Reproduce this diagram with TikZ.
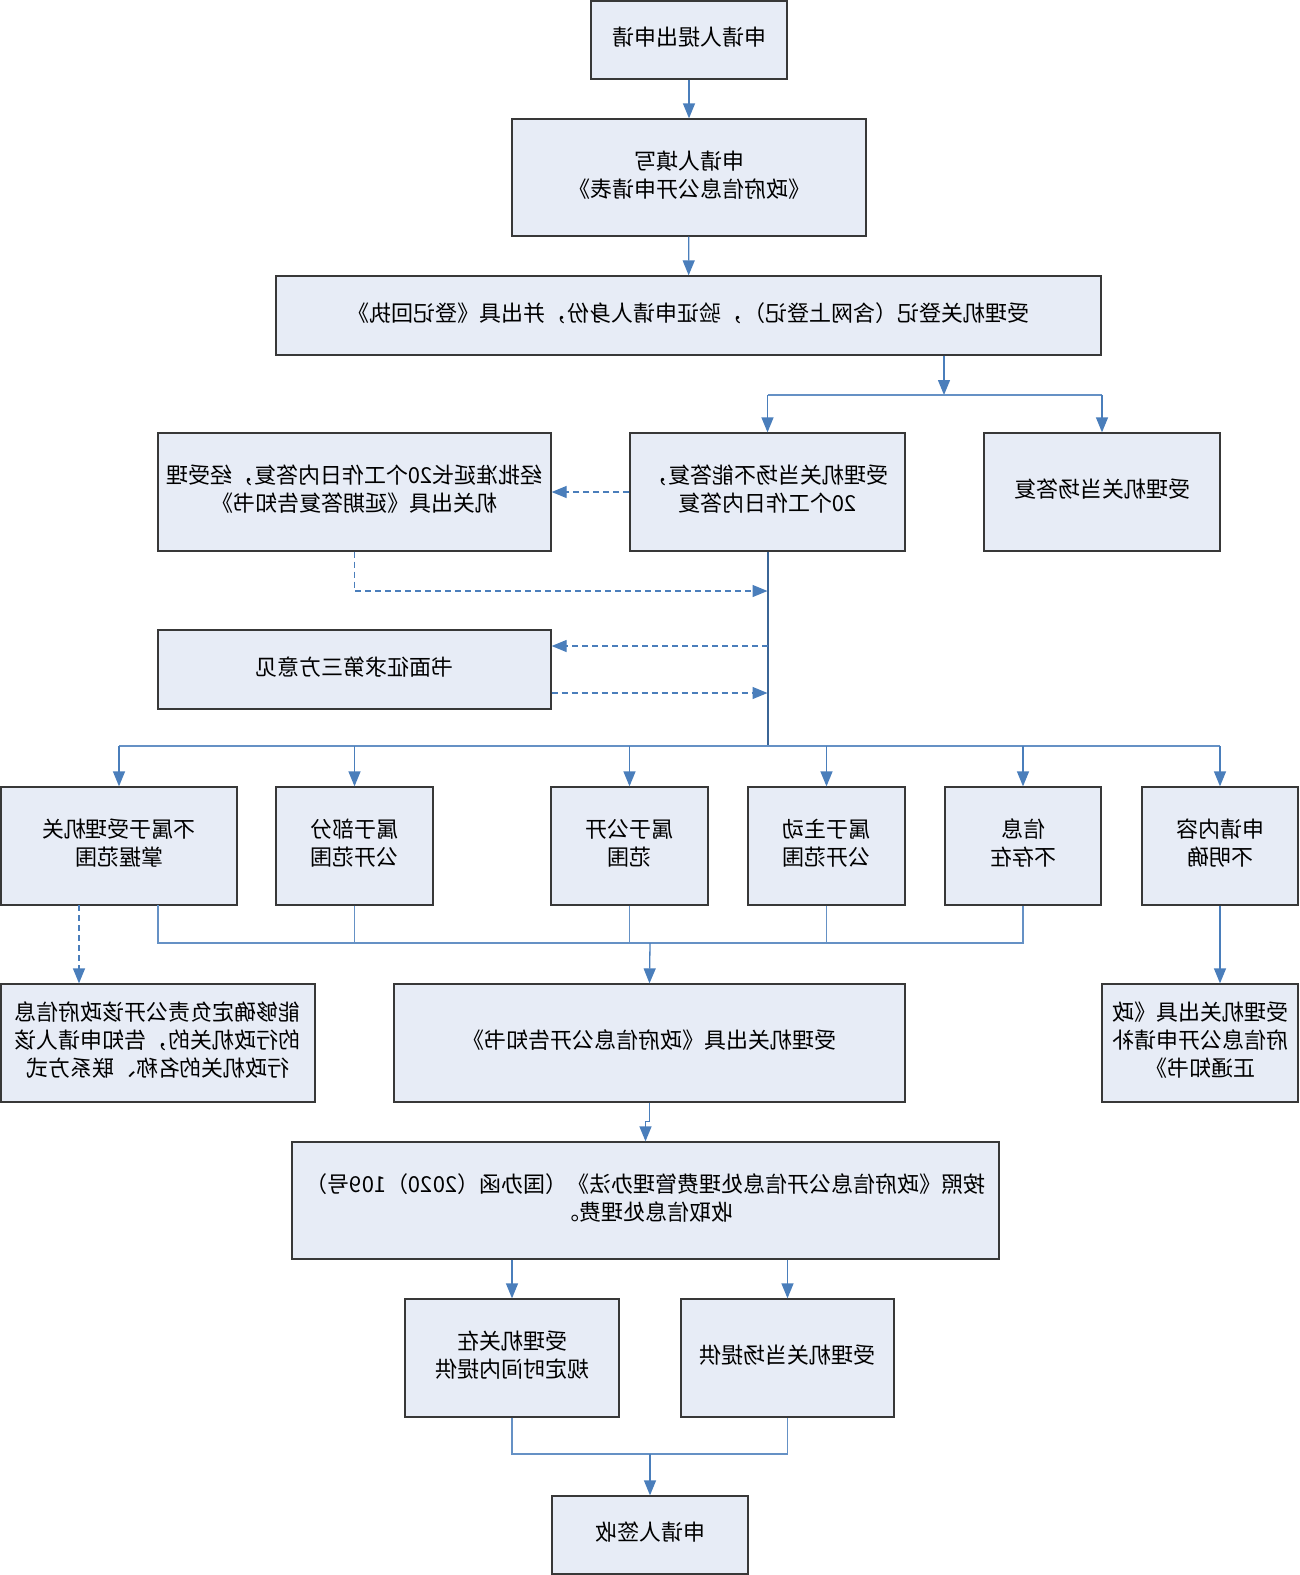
\documentclass[tikz,border=0pt]{standalone}
\usepackage{fontspec}
\setmainfont{Noto Sans CJK SC}
\usepackage{graphicx}
\usetikzlibrary{arrows.meta}
\definecolor{boxfill}{HTML}{E7ECF6}
\definecolor{boxline}{HTML}{383838}
\definecolor{conn}{HTML}{4A7EBB}
\newcommand{\mirtext}[1]{\reflectbox{\fontsize{22}{28}\selectfont\begin{tabular}{@{}c@{}}#1\end{tabular}}}
\tikzset{
  bx/.style n args={2}{draw=boxline, fill=boxfill, line width=1.3pt, inner sep=0pt,
    minimum width=#1, minimum height=#2},
  arr/.style={draw=conn, line width=1.3pt, -{Triangle[length=15pt,width=12pt]}},
  dasharr/.style={arr, dash pattern=on 6pt off 4pt},
  link/.style={draw=conn!85!white, line width=1.1pt},
  trunk/.style={draw=conn!80!black, line width=2pt},
}
\begin{document}
\begin{tikzpicture}[x=1pt,y=-1pt]
\useasboundingbox (0,0) rectangle (1300,1575);
% boxes
\node[bx={196pt}{78pt}] (n1) at (689,40) {\mirtext{申请人提出申请}};
\node[bx={354pt}{117pt}] (n2) at (689,177.5) {\mirtext{申请人填写\\《政府信息公开申请表》}};
\node[bx={825pt}{79pt}] (n3) at (688.5,315.5) {\mirtext{受理机关登记（含网上登记），验证申请人身份，并出具《登记回执》}};
\node[bx={236pt}{118pt}] (n4) at (1102,492) {\mirtext{受理机关当场答复}};
\node[bx={275pt}{118pt}] (n5) at (767.5,492) {\mirtext{受理机关当场不能答复，\\20个工作日内答复}};
\node[bx={393pt}{118pt}] (n6) at (354.5,492) {\mirtext{经批准延长20个工作日内答复，经受理\\机关出具《延期答复告知书》}};
\node[bx={393pt}{79pt}] (n7) at (354.5,669.5) {\mirtext{书面征求第三方意见}};
\node[bx={236pt}{118pt}] (a) at (119,846) {\mirtext{不属于受理机关\\掌握范围}};
\node[bx={157pt}{118pt}] (b) at (354.5,846) {\mirtext{属于部分\\公开范围}};
\node[bx={157pt}{118pt}] (c) at (629.5,846) {\mirtext{属于公开\\范围}};
\node[bx={157pt}{118pt}] (d) at (826.5,846) {\mirtext{属于主动\\公开范围}};
\node[bx={156pt}{118pt}] (e) at (1023,846) {\mirtext{信息\\不存在}};
\node[bx={156pt}{118pt}] (f) at (1220,846) {\mirtext{申请内容\\不明确}};
\node[bx={314pt}{118pt}] (h) at (158,1043) {\mirtext{能够确定负责公开该政府信息\\的行政机关的，告知申请人该\\行政机关的名称、联系方式}};
\node[bx={511pt}{118pt}] (g) at (649.5,1043) {\mirtext{受理机关出具《政府信息公开告知书》}};
\node[bx={196pt}{118pt}] (i) at (1200,1043) {\mirtext{受理机关出具《政\\府信息公开申请补\\正通知书》}};
\node[bx={707pt}{117pt}] (j) at (645.5,1200.5) {\mirtext{按照《政府信息公开信息处理费管理办法》（国办函（2020）109号）\\收取信息处理费。}};
\node[bx={214pt}{118pt}] (k) at (512,1358) {\mirtext{受理机关在\\规定时间内提供}};
\node[bx={213pt}{118pt}] (l) at (787.5,1358) {\mirtext{受理机关当场提供}};
\node[bx={196pt}{78pt}] (m) at (650,1535) {\mirtext{申请人签收}};
% junction coordinates
\coordinate (j1) at (944,395);
\coordinate (d1) at (767.5,591);
\coordinate (t1) at (767.5,646);
\coordinate (t2) at (767.5,693);
\coordinate (bus) at (767.5,746);
\coordinate (col) at (650,943);
\coordinate (col2) at (650,1454);
\coordinate (aR) at (158,905);
\coordinate (aL) at (79,905);
% connectors
\draw[arr] (n1) -- (n2);
\draw[arr] (n2) -- (n3);
\draw[arr] (n3.south -| j1) -- (j1);
\draw[link] (n5.north |- j1) -- (n4.north |- j1);
\draw[arr] (n5.north |- j1) -- (n5.north);
\draw[arr] (n4.north |- j1) -- (n4.north);
\draw[dasharr] (n5.west) -- (n6.east);
\draw[trunk] (n5.south) -- (bus);
\draw[dasharr] (n6.south) |- (d1);
\draw[dasharr] (t1) -- (t1 -| n7.east);
\draw[dasharr] (t2 -| n7.east) -- (t2);
\draw[link] (a.north |- bus) -- (f.north |- bus);
\foreach \n in {a,b,c,d,e,f} \draw[arr] (\n.north |- bus) -- (\n.north);
\draw[link] (aR) |- (e.south |- col) -- (e.south);
\foreach \n in {b,c,d} \draw[link] (\n.south) -- (\n.south |- col);
\draw[arr] (col) -- (g.north);
\draw[dasharr] (aL) -- (aL |- h.north);
\draw[arr] (f.south) -- (f.south |- i.north);
\draw[arr] (g.south) -- ++(0,19) -| (j.north);
\draw[arr] (k.north |- j.south) -- (k.north);
\draw[arr] (l.north |- j.south) -- (l.north);
\draw[link] (k.south) |- (l.south |- col2) -- (l.south);
\draw[arr] (col2) -- (m.north);
\end{tikzpicture}
\end{document}
